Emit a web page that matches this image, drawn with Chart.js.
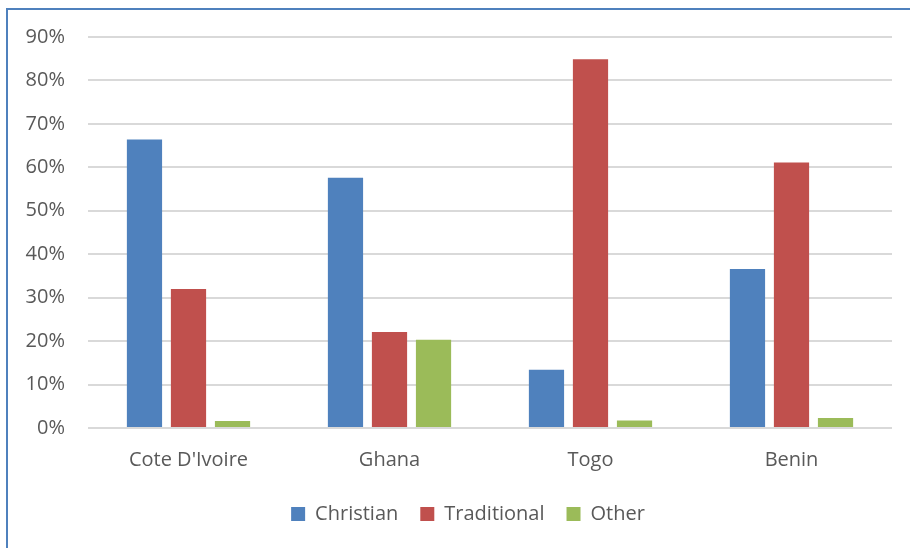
<!DOCTYPE html>
<html>
<head>
<meta charset="utf-8">
<script src="https://cdn.jsdelivr.net/npm/chart.js@4"></script>
<style>
  html, body { margin: 0; padding: 0; background: #fff; overflow: hidden; }
  #wrap { position: relative; width: 910px; height: 548px; }
  #frame {
    position: absolute; left: 6px; top: 8px; width: 1000px; height: 1000px;
    border-left: 2px solid #4f81bd; border-top: 2px solid #4f81bd;
    pointer-events: none;
  }
</style>
</head>
<body>
<div id="wrap">
  <canvas id="religionChart" width="910" height="548"></canvas>
  <div id="frame"></div>
</div>
<script>
// Data
const countries = ["Cote D'Ivoire", 'Ghana', 'Togo', 'Benin'];
const christian = [0.664, 0.576, 0.134, 0.366];
const traditional = [0.320, 0.221, 0.849, 0.611];
const other = [0.016, 0.203, 0.017, 0.023];

const colors = {
    christian: '#4f81bd',
    traditional: '#c0504d',
    other: '#9bbb59',
    text: '#595959',
    grid: '#d9d9d9'
};

Chart.defaults.font.family = "'Open Sans', sans-serif";
Chart.defaults.color = colors.text;

// Excel centres the legend a bit right of the canvas middle
const nudgeLegend = {
    id: 'nudgeLegend',
    afterLayout(chart) {
        if (chart.legend) {
            chart.legend.left += 22;
            chart.legend.right += 22;
        }
    }
};

const ctx = document.getElementById('religionChart').getContext('2d');
new Chart(ctx, {
    type: 'bar',
    data: {
        labels: countries,
        datasets: [
            { label: 'Christian', data: christian, backgroundColor: colors.christian },
            { label: 'Traditional', data: traditional, backgroundColor: colors.traditional },
            { label: 'Other', data: other, backgroundColor: colors.other }
        ]
    },
    options: {
        responsive: false,
        animation: false,
        datasets: {
            bar: { categoryPercentage: 0.657, barPercentage: 0.8 }
        },
        layout: { padding: { top: 37, right: 18, bottom: 14, left: 0 } },
        scales: {
            x: {
                grid: { display: false },
                border: { display: false },
                ticks: { padding: 12, font: { size: 20 }, color: colors.text },
                afterFit: (scale) => { scale.height = 54; }
            },
            y: {
                min: 0,
                max: 0.9,
                grid: { color: colors.grid, lineWidth: 2, drawTicks: false },
                border: { display: false },
                ticks: {
                    stepSize: 0.1,
                    padding: 23,
                    font: { size: 20 },
                    color: colors.text,
                    callback: (v) => Math.round(v * 100) + '%'
                },
                afterFit: (scale) => { scale.width = 88; }
            }
        },
        plugins: {
            tooltip: { enabled: false },
            legend: {
                position: 'bottom',
                labels: {
                    boxWidth: 14,
                    boxHeight: 14,
                    padding: 22,
                    font: { size: 20 },
                    color: colors.text
                }
            }
        }
    },
    plugins: [nudgeLegend]
});
</script>
</body>
</html>
